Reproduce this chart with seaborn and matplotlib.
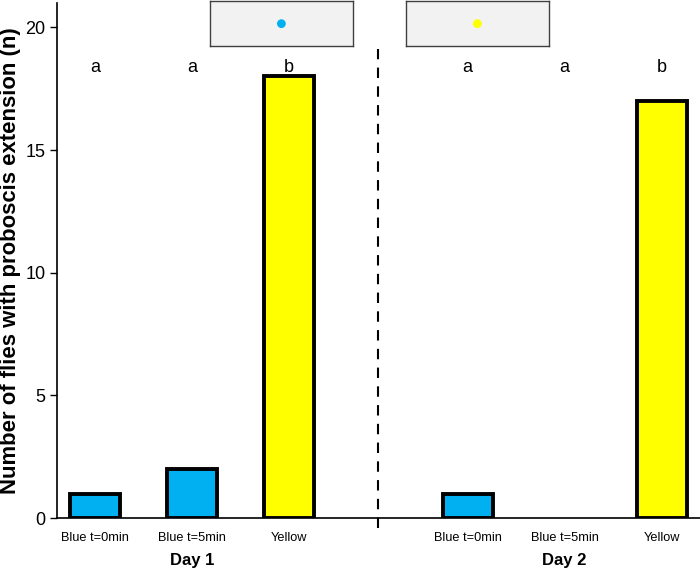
import matplotlib
matplotlib.use("Agg")

import numpy as np
import pandas as pd
import matplotlib.pyplot as plt
import seaborn as sns

sns.set_style("ticks")
plt.rcParams['font.family'] = ['Liberation Sans', 'DejaVu Sans']
plt.rcParams['text.color'] = 'black'
plt.rcParams['axes.labelcolor'] = 'black'
plt.rcParams['xtick.color'] = 'black'
plt.rcParams['ytick.color'] = 'black'

# data
days = ['Day 1', 'Day 2']
conditions = ['Blue t=0min', 'Blue t=5min', 'Yellow']
stimulus = ['Blue', 'Blue', 'Yellow']
day1_counts = [1, 2, 18]
day2_counts = [1, 0, 17]
day1_letters = ['a', 'a', 'b']
day2_letters = ['a', 'a', 'b']

palette = {'Blue': '#00b0f0', 'Yellow': '#ffff00'}

# layout
group_start = [0.0, 3.8]
step = 0.99

rows = []
for g, (day, counts, letters) in enumerate(zip(days, [day1_counts, day2_counts],
                                                [day1_letters, day2_letters])):
    for i, (cond, stim, n, let) in enumerate(zip(conditions, stimulus, counts, letters)):
        rows.append({'day': day, 'condition': cond, 'stimulus': stim, 'n': n,
                     'letter': let, 'pos': group_start[g] + i * step})
df = pd.DataFrame(rows)

fig = plt.figure(figsize=(7, 5.7), dpi=100)
ax = fig.add_axes([0.081, 0.091, 0.919, 0.904])

sns.barplot(data=df, x='pos', y='n', hue='stimulus', palette=palette,
            native_scale=True, dodge=False, legend=False, width=0.515,
            edgecolor='black', linewidth=2.8, saturation=1, ax=ax)

# an empty bar leaves no outline
for bar in ax.patches:
    if bar.get_height() == 0:
        bar.set_linewidth(0)

ax.set_xlim(-0.39, 6.17)
ax.set_ylim(0, 21)
ax.set_yticks([0, 5, 10, 15, 20])
ax.tick_params(axis='y', labelsize=13, length=5, width=1, direction='out', pad=3)
ax.set_xticks(df['pos'])
ax.set_xticklabels(df['condition'], fontsize=9.2)
ax.tick_params(axis='x', length=0, pad=10)
ax.set_xlabel('')
ax.set_ylabel('Number of flies with proboscis extension (n)', fontsize=15.9,
              fontweight='bold', labelpad=3)
sns.despine(ax=ax)
for sp in ['left', 'bottom']:
    ax.spines[sp].set_linewidth(1.2)
    ax.spines[sp].set_color('black')

# significance letters
for _, r in df.iterrows():
    ax.text(r['pos'], 18.35, r['letter'], ha='center', va='center', fontsize=13)

# day labels
for g, day in enumerate(days):
    ax.text(group_start[g] + step, -0.083, day, transform=ax.get_xaxis_transform(),
            ha='center', va='center', fontsize=12, fontweight='bold')

# divider
mid = (group_start[0] + 2 * step + group_start[1]) / 2
ax.plot([mid, mid], [-0.4, 19.1], ls=(0, (5, 4)), color='black', lw=1.5, clip_on=False)

# stimulus insets
for left, stim in [(0.30, 'Blue'), (0.58, 'Yellow')]:
    ins = fig.add_axes([left, 0.919, 0.204, 0.079])
    ins.set_facecolor('#f2f2f2')
    ins.scatter([0.5], [0.5], s=40, color=palette[stim], edgecolors='none')
    ins.set_xlim(0, 1)
    ins.set_ylim(0, 1)
    ins.set_xticks([])
    ins.set_yticks([])
    for sp in ins.spines.values():
        sp.set_color('#404040')
        sp.set_linewidth(1)

fig.savefig('out.png', dpi=100)
